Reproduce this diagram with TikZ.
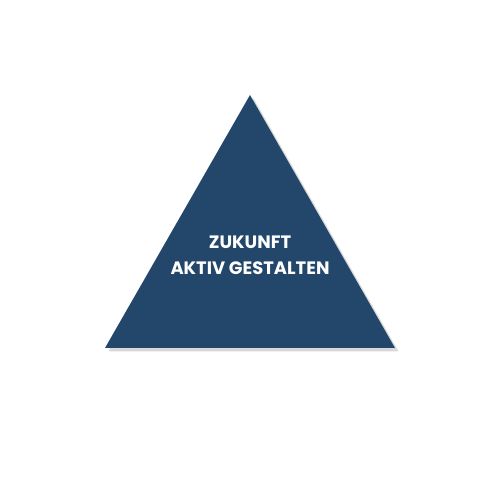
\documentclass[tikz,border=0pt]{standalone}
\usepackage{fontspec}
\setmainfont{Poppins}
\usetikzlibrary{shadows}
\definecolor{tri}{HTML}{22476A}
\tikzset{
  tribox/.style={fill=tri, draw=none, drop shadow={shadow xshift=0.07cm, shadow yshift=-0.07cm, opacity=0.25, fill=black!60}},
  label/.style={text=white, font=\bfseries\fontsize{10.2}{14.5}\selectfont, align=center}
}
\begin{document}
\begin{tikzpicture}
\useasboundingbox[fill=white] (0,0) rectangle (10,10);
\coordinate (apex) at (5,8.1);
\coordinate (bl) at (2.1,3.04);
\coordinate (br) at (7.9,3.04);
\path[tribox] (apex) -- (br) -- (bl) -- cycle;
\node[label] (t) at (5,4.89) {ZUKUNFT\\AKTIV GESTALTEN};
\end{tikzpicture}
\end{document}
